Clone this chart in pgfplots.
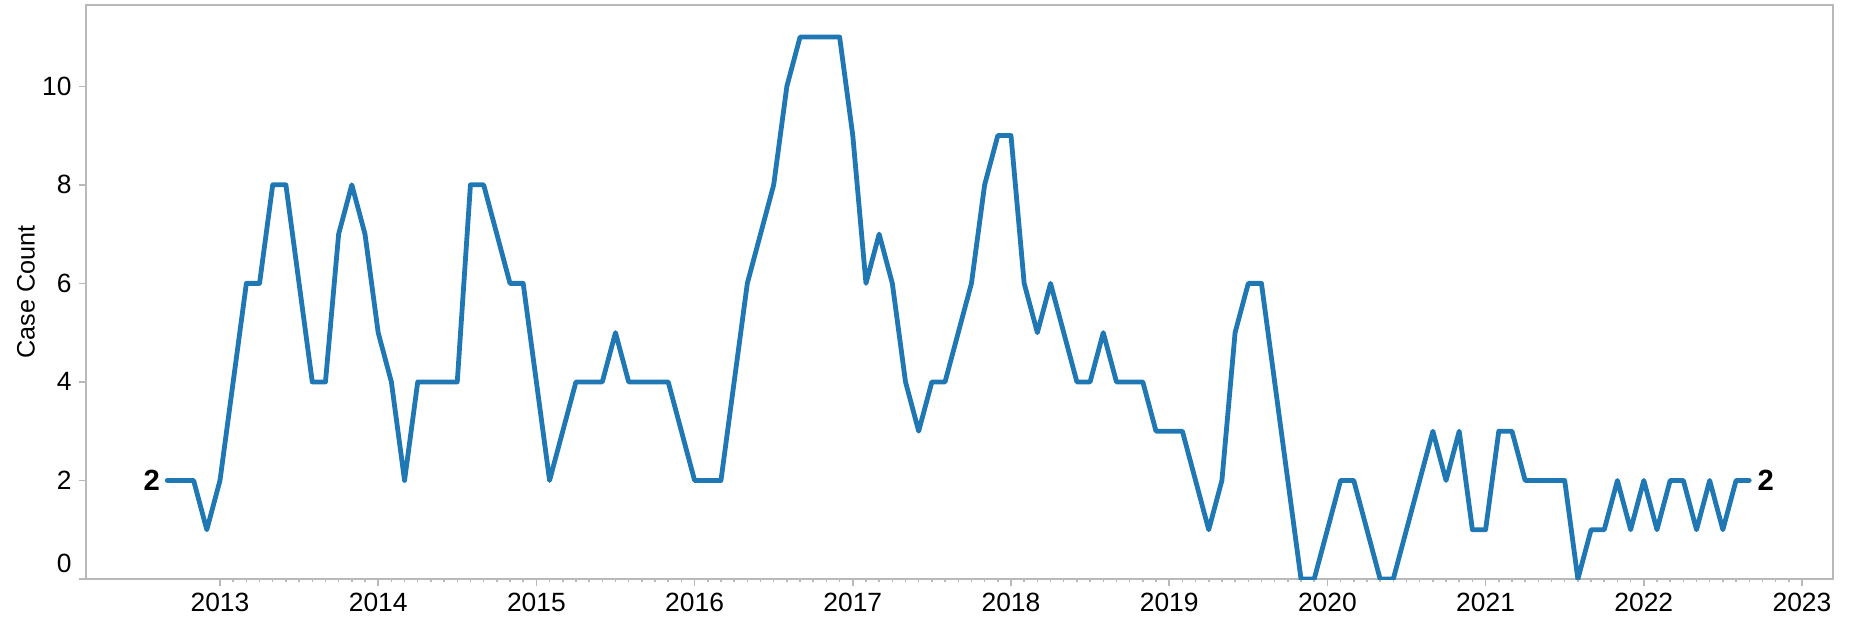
\documentclass[border=0pt]{standalone}
\usepackage{fontspec}
\setmainfont{Liberation Sans}
\usepackage{pgfplots}
\usepackage{pgfplotstable}
\pgfplotsset{compat=1.18}

\definecolor{lineblue}{RGB}{31,119,180}
\definecolor{axisgray}{RGB}{185,185,185}

% monthly case counts, Sep 2012 - Sep 2022
\pgfplotstableread{
year month count
2012 9 2
2012 10 2
2012 11 2
2012 12 1
2013 1 2
2013 2 4
2013 3 6
2013 4 6
2013 5 8
2013 6 8
2013 7 6
2013 8 4
2013 9 4
2013 10 7
2013 11 8
2013 12 7
2014 1 5
2014 2 4
2014 3 2
2014 4 4
2014 5 4
2014 6 4
2014 7 4
2014 8 8
2014 9 8
2014 10 7
2014 11 6
2014 12 6
2015 1 4
2015 2 2
2015 3 3
2015 4 4
2015 5 4
2015 6 4
2015 7 5
2015 8 4
2015 9 4
2015 10 4
2015 11 4
2015 12 3
2016 1 2
2016 2 2
2016 3 2
2016 4 4
2016 5 6
2016 6 7
2016 7 8
2016 8 10
2016 9 11
2016 10 11
2016 11 11
2016 12 11
2017 1 9
2017 2 6
2017 3 7
2017 4 6
2017 5 4
2017 6 3
2017 7 4
2017 8 4
2017 9 5
2017 10 6
2017 11 8
2017 12 9
2018 1 9
2018 2 6
2018 3 5
2018 4 6
2018 5 5
2018 6 4
2018 7 4
2018 8 5
2018 9 4
2018 10 4
2018 11 4
2018 12 3
2019 1 3
2019 2 3
2019 3 2
2019 4 1
2019 5 2
2019 6 5
2019 7 6
2019 8 6
2019 9 4
2019 10 2
2019 11 0
2019 12 0
2020 1 1
2020 2 2
2020 3 2
2020 4 1
2020 5 0
2020 6 0
2020 7 1
2020 8 2
2020 9 3
2020 10 2
2020 11 3
2020 12 1
2021 1 1
2021 2 3
2021 3 3
2021 4 2
2021 5 2
2021 6 2
2021 7 2
2021 8 0
2021 9 1
2021 10 1
2021 11 2
2021 12 1
2022 1 2
2022 2 1
2022 3 2
2022 4 2
2022 5 1
2022 6 2
2022 7 1
2022 8 2
2022 9 2
}\cases

\begin{document}
\begin{tikzpicture}
\begin{axis}[
    scale only axis,
    width=873.5pt, height=287pt,
    xmin=2012.153, xmax=2023.196,
    ymin=0, ymax=11.65,
    axis line style={axisgray, line width=0.75pt},
    tick style={axisgray, line width=0.75pt},
    tick align=outside,
    tick pos=left,
    major tick length=3.7pt,
    minor tick length=1.7pt,
    xtick={2013,2014,2015,2016,2017,2018,2019,2020,2021,2022,2023},
    xticklabels={2013,2014,2015,2016,2017,2018,2019,2020,2021,2022,2023},
    minor x tick num=11,
    ytick={0,2,4,6,8,10},
    yticklabels={\raisebox{16pt}{0},2,4,6,8,10},
    ticklabel style={font=\fontsize{13.2}{15}\selectfont, text=black},
    ylabel={Case Count},
    every axis y label/.style={at={(axis description cs:-0.0343,0.5)}, rotate=90,
        anchor=center, font=\fontsize{12.6}{15}\selectfont},
]
\addplot[lineblue, line width=2.4pt, line join=round, line cap=round]
    table[x expr=\thisrow{year}+(\thisrow{month}-1)/12, y=count] {\cases};

% value labels at both ends of the line
\addplot[draw=none, point meta=explicit symbolic, nodes near coords,
    nodes near coords align={anchor=east},
    every node near coord/.append style={anchor=east, inner sep=3.5pt,
        font=\bfseries\fontsize{14.6}{16}\selectfont, text=black}]
    coordinates {(2012.6667,2) [2]};
\addplot[draw=none, point meta=explicit symbolic, nodes near coords,
    nodes near coords align={anchor=west},
    every node near coord/.append style={anchor=west, inner sep=4pt,
        font=\bfseries\fontsize{14.6}{16}\selectfont, text=black}]
    coordinates {(2022.6667,2) [2]};
\end{axis}
\pgfresetboundingbox
\path[use as bounding box] ([xshift=-43pt,yshift=-21.5pt]current axis.south west)
    rectangle ([xshift=8pt,yshift=2.5pt]current axis.north east);
\end{tikzpicture}
\end{document}
